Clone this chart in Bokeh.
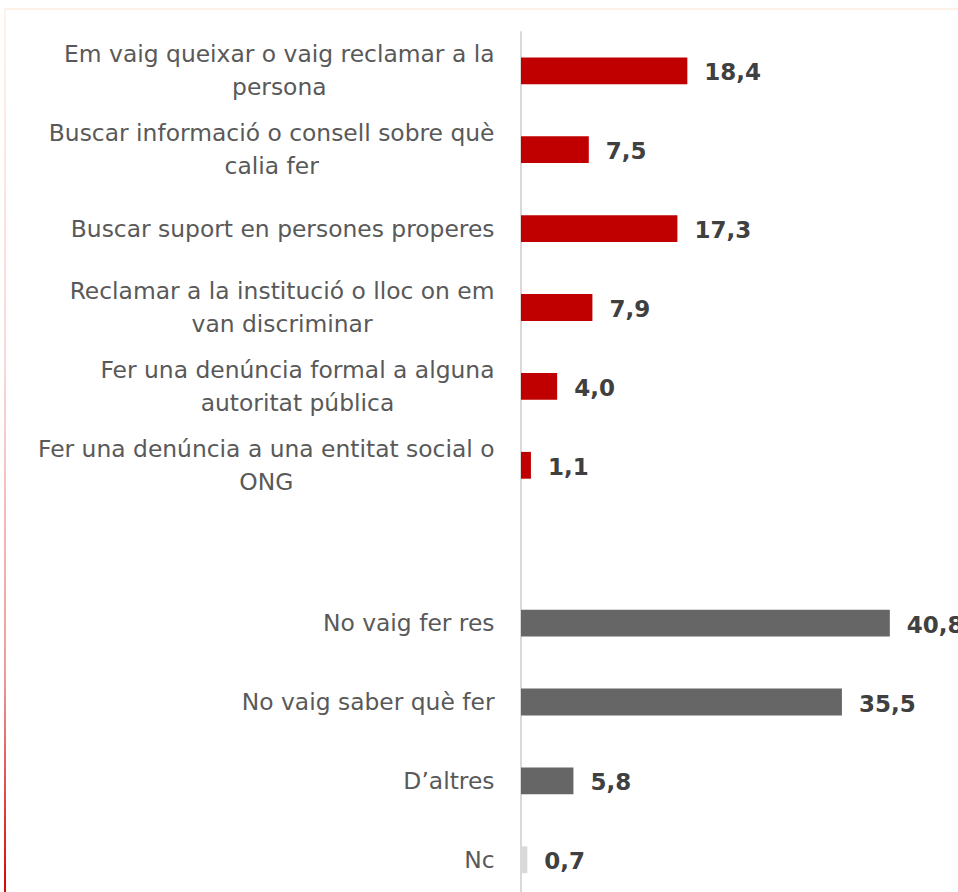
import numpy as np
from bokeh.plotting import figure
from bokeh.models import ColumnDataSource, Range1d
from bokeh.core.properties import value
from bokeh.embed import file_html
from bokeh.resources import INLINE

# ---- data ----
action_labels = [
    "Em vaig queixar o vaig reclamar a la\npersona",
    "Buscar informació o consell sobre què\ncalia fer",
    "Buscar suport en persones properes",
    "Reclamar a la institució o lloc on em\nvan discriminar",
    "Fer una denúncia formal a alguna\nautoritat pública",
    "Fer una denúncia a una entitat social o\nONG",
]
action_values = [18.4, 7.5, 17.3, 7.9, 4.0, 1.1]

other_labels = ["No vaig fer res", "No vaig saber què fer", "D\u2019altres", "Nc"]
other_values = [40.8, 35.5, 5.8, 0.7]
other_colors = ["#666666", "#666666", "#666666", "#d9d9d9"]

action_color = "#c00000"

# ---- layout constants (pixels) ----
W, H = 958, 892
ORIGIN_PX = 520.5      # x pixel of value 0
PX_PER_UNIT = 9.04
SLOT_PX = 78.9
FIRST_SLOT_PX = 70.3

labels = action_labels + other_labels
vals = action_values + other_values
colors = [action_color] * len(action_values) + other_colors
pos = list(np.arange(len(action_values))) + list(len(action_values) + 1 + np.arange(len(other_values)))
texts = [f"{v:.1f}".replace(".", ",") for v in vals]

src = ColumnDataSource(dict(y=pos, v=vals, c=colors, lab=labels, t=texts, zero=[0] * len(vals)))

x_start = -ORIGIN_PX / PX_PER_UNIT
x_end = (W - ORIGIN_PX) / PX_PER_UNIT
y_top = -FIRST_SLOT_PX / SLOT_PX
y_bottom = y_top + H / SLOT_PX

p = figure(width=W, height=H, output_backend="svg", toolbar_location=None,
           x_range=Range1d(x_start, x_end), y_range=Range1d(y_bottom, y_top),
           min_border=0, outline_line_color=None)
p.axis.visible = False
p.grid.visible = False
p.background_fill_color = None
p.border_fill_color = None
p.styles = {
    "background": "linear-gradient(to bottom, #fdf3ea 0%, #f8d8d8 40%, #ee9a9a 75%, #d40000 100%) 4px 8px / 2px 100% no-repeat, "
                  "linear-gradient(#fdf0e4, #fdf0e4) 4px 8px / 100% 2px no-repeat, #ffffff",
}

# vertical axis line spanning all slots
p.segment(x0=[0], y0=[-0.5], x1=[0], y1=[max(pos) + 0.5], line_color="#d9d9d9", line_width=2)

p.hbar(y="y", left="zero", right="v", height=0.34, fill_color="c", line_color=None, source=src)

p.text(x="zero", y="y", text="lab", source=src, x_offset=-26.5, text_align="center",
       anchor=value("center_right"),
       text_baseline="middle", text_font=value("DejaVu Sans"), text_font_size="23.4px",
       text_color="#595959", text_line_height=1.18)

p.text(x="v", y="y", text="t", source=src, x_offset=17, y_offset=1, text_align="left",
       text_baseline="middle", text_font=value("DejaVu Sans"), text_font_size="23px",
       text_font_style="bold", text_color="#404040")

open("out.html", "w").write(file_html(p, INLINE))
